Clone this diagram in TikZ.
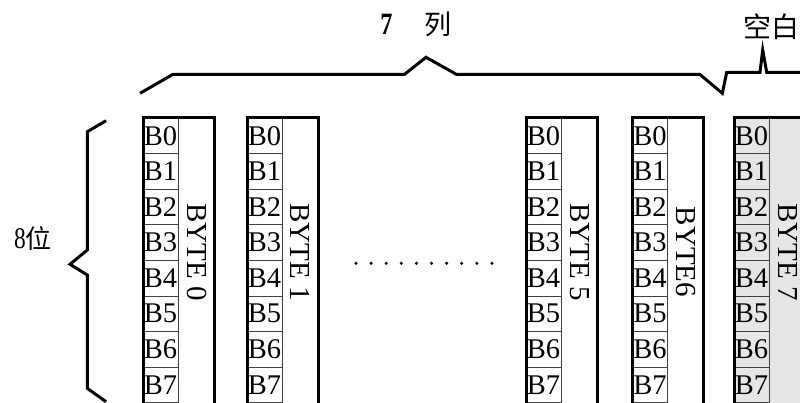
\documentclass[tikz,border=0pt]{standalone}
\usepackage{fontspec}
\setmainfont{Liberation Serif}
\newfontfamily\cjk{Noto Sans CJK SC}
\definecolor{blankgray}{HTML}{E6E6E6}
\tikzset{
  cell/.style={draw=black!75, line width=0.9pt, minimum width=35.5pt, minimum height=35.6pt,
    inner sep=0pt, font=\fontsize{28.5}{28.5}\selectfont},
  bytebox/.style={draw=black, line width=3pt, line join=miter},
  bytelabel/.style={rotate=-90, inner sep=0pt, font=\fontsize{29}{29}\selectfont},
  brace/.style={draw=black, line width=3pt, line join=miter, line cap=butt},
  dotmark/.style={fill=black}
}
\begin{document}
\begin{tikzpicture}[x=1pt,y=-1pt]
\useasboundingbox (0,0) rectangle (800,403);
\clip (0,0) rectangle (800,403);
% blank column fill
\fill[blankgray] (734,118) rectangle (820,420);
% columns
\foreach \L/\T/\n in {143/{BYTE 0}/0, 247/{BYTE 1}/1, 526/{BYTE 5}/5, 632.5/{BYTE6}/6, 734/{BYTE 7}/7}{
  \foreach \k in {0,...,7}{
    \node[cell] (c\n-\k) at (\L+17.5, 118+35.6*\k+17.8) {B\k};
  }
  \node[bytelabel] (lab\n) at (\L+53.5, 252) {\T};
  \draw[bytebox] (\L,118) rectangle (\L+71,430);
}
% dots
\foreach \k in {0,...,9}{
  \fill[dotmark] (356+15.1*\k, 263.3) circle (1.7pt);
}
% top brace (7 columns) and blank brace
\draw[brace] (140,93.3) -- (172.7,74.5) -- (404.3,74.5) -- (426,57.3) -- (456.7,74.5)
  -- (700,74.5) -- (722.3,93.3) -- (726.7,72.3) -- (760,72.3) -- (762.7,50)
  -- (766.7,72.3) -- (810,72.3);
% left brace (8 bits)
\draw[brace] (106,120.7) -- (87.3,131.7) -- (87.3,250) -- (70,264.3) -- (87.3,275)
  -- (87.3,388.3) -- (106,401.7);
% labels
\node[inner sep=0pt, anchor=center] (cols) at (416,24)
  {\fontsize{27}{27}\selectfont\scalebox{0.9}[1.15]{\textbf{7}}\hspace{32pt}{\cjk 列}};
\node[inner sep=0pt, anchor=center] (blank) at (771,27)
  {\fontsize{28}{28}\selectfont{\cjk 空白}};
\node[inner sep=0pt, anchor=center] (bits) at (33,239)
  {\fontsize{26}{26}\selectfont\scalebox{0.9}[1.15]{8}{\cjk 位}};
\end{tikzpicture}
\end{document}
